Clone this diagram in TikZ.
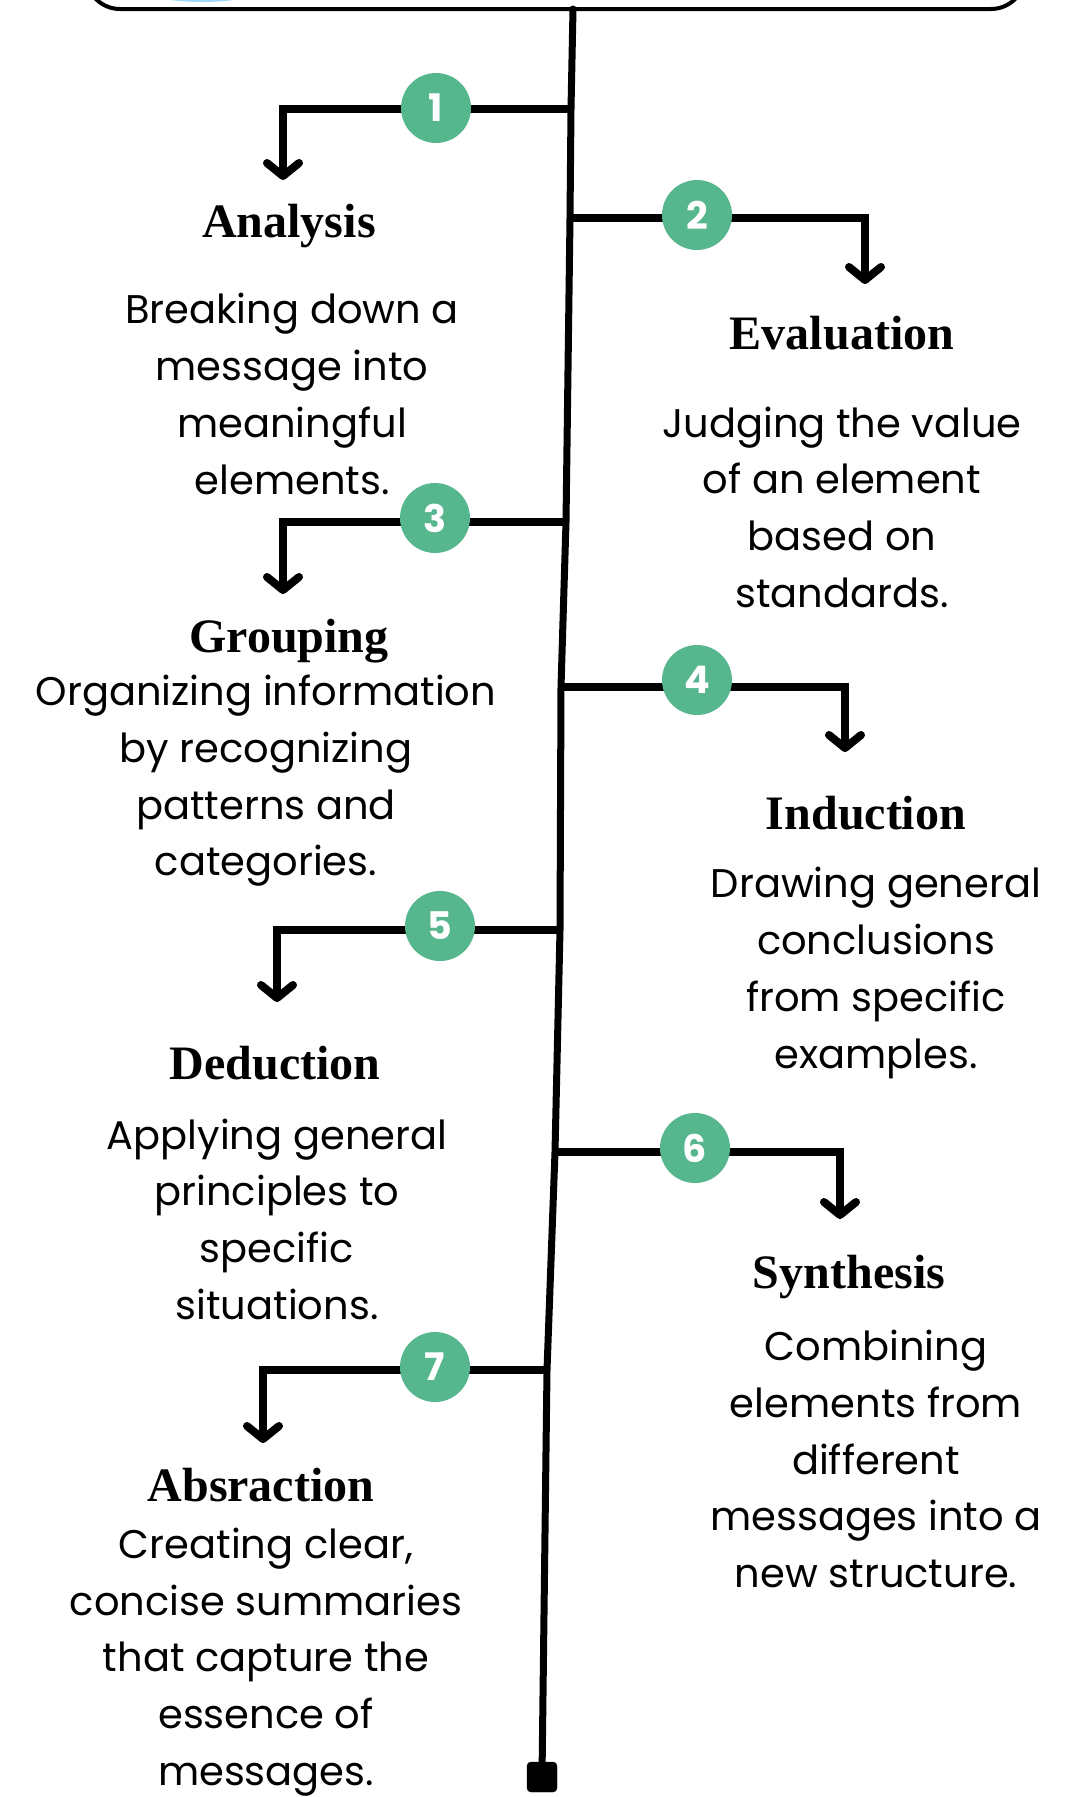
\documentclass[tikz,border=0pt]{standalone}
\usepackage{fontspec}
\setmainfont{Poppins}
\newfontfamily\titlefont{Liberation Serif}
\usetikzlibrary{arrows.meta}
\definecolor{badge}{HTML}{56B68D}
\definecolor{peek}{HTML}{9FD9F7}
\tikzset{
  trunk/.style={line width=7pt, line cap=round},
  branch/.style={line width=8pt, line join=miter, -{Straight Barb[length=13pt,width=32pt,round]}},
  badgenode/.style={circle, fill=badge, minimum size=70pt, inner sep=0pt, text=white, font=\bfseries\fontsize{38}{38}\selectfont},
  titlenode/.style={anchor=base, font=\titlefont\bfseries\fontsize{48}{48}\selectfont},
  bodynode/.style={align=center, inner sep=0pt, font=\fontsize{40}{56.7}\selectfont},
}
\begin{document}
\begin{tikzpicture}[x=1pt,y=-1pt]
\useasboundingbox (0,0) rectangle (1070,1797);
\clip (0,0) rectangle (1070,1797);
% header box (cut off at top)
\fill[peek] (202,-14) ellipse (66pt and 16pt);
\draw[line width=4pt, rounded corners=34pt] (86,-100) -- (86,9) -- (1025,9) -- (1025,-100);
% trunk junctions
\coordinate (top) at (573,9);
\coordinate (j1) at (571,109);
\coordinate (j2) at (570,218);
\coordinate (j3) at (566,522);
\coordinate (j4) at (561,687);
\coordinate (j5) at (560,930);
\coordinate (j6) at (555,1152);
\coordinate (j7) at (547,1370);
\node[draw, fill=black, rounded corners=4pt, minimum size=30pt, inner sep=0pt] (endsq) at (542,1777) {};
\draw[trunk] (top) -- (j1) -- (j2) -- (j3) -- (j4) -- (j5) -- (j6) -- (j7) -- (endsq.center);
% corners and arrow ends
\coordinate (k1) at (283,109);  \coordinate (a1) at (283,180);
\coordinate (k2) at (865,218);  \coordinate (a2) at (865,284);
\coordinate (k3) at (283,522);  \coordinate (a3) at (283,594);
\coordinate (k4) at (845,687);  \coordinate (a4) at (845,752);
\coordinate (k5) at (277,930);  \coordinate (a5) at (277,1002);
\coordinate (k6) at (840,1152); \coordinate (a6) at (840,1219);
\coordinate (k7) at (263,1370); \coordinate (a7) at (263,1443);
\foreach \i in {1,...,7}{\draw[branch] (j\i) -- (k\i) -- (a\i);}
% badges
\node[badgenode] (c1) at (436,108) {1};
\node[badgenode] (c2) at (697,215) {2};
\node[badgenode] (c3) at (435,518) {3};
\node[badgenode] (c4) at (697,680) {4};
\node[badgenode] (c5) at (440,926) {5};
\node[badgenode] (c6) at (695,1148) {6};
\node[badgenode] (c7) at (435,1367) {7};
% titles
\node[titlenode] (t1) at (289,237) {Analysis};
\node[titlenode] (t2) at (842,349) {Evaluation};
\node[titlenode] (t3) at (289,652) {Grouping};
\node[titlenode] (t4) at (866,829) {Induction};
\node[titlenode] (t5) at (275,1079) {Deduction};
\node[titlenode] (t6) at (849,1288) {Synthesis};
\node[titlenode] (t7) at (261,1501) {Absraction};
% bodies
\node[bodynode] (b1) at (292,394) {Breaking down a\\message into\\meaningful\\elements.};
\node[bodynode] (b2) at (842,507) {Judging the value\\of an element\\based on\\standards.};
\node[bodynode] (b3) at (266,781) {Organizing information\\by recognizing\\patterns and\\categories.};
\node[bodynode] (b4) at (876,973) {Drawing general\\conclusions\\from specific\\examples.};
\node[bodynode] (b5) at (277,1219) {Applying general\\principles to\\specific\\situations.};
\node[bodynode] (b6) at (876,1459) {Combining\\elements from\\different\\messages into a\\new structure.};
\node[bodynode] (b7) at (266,1662) {Creating clear,\\concise summaries\\that capture the\\essence of\\messages.};
\end{tikzpicture}
\end{document}
